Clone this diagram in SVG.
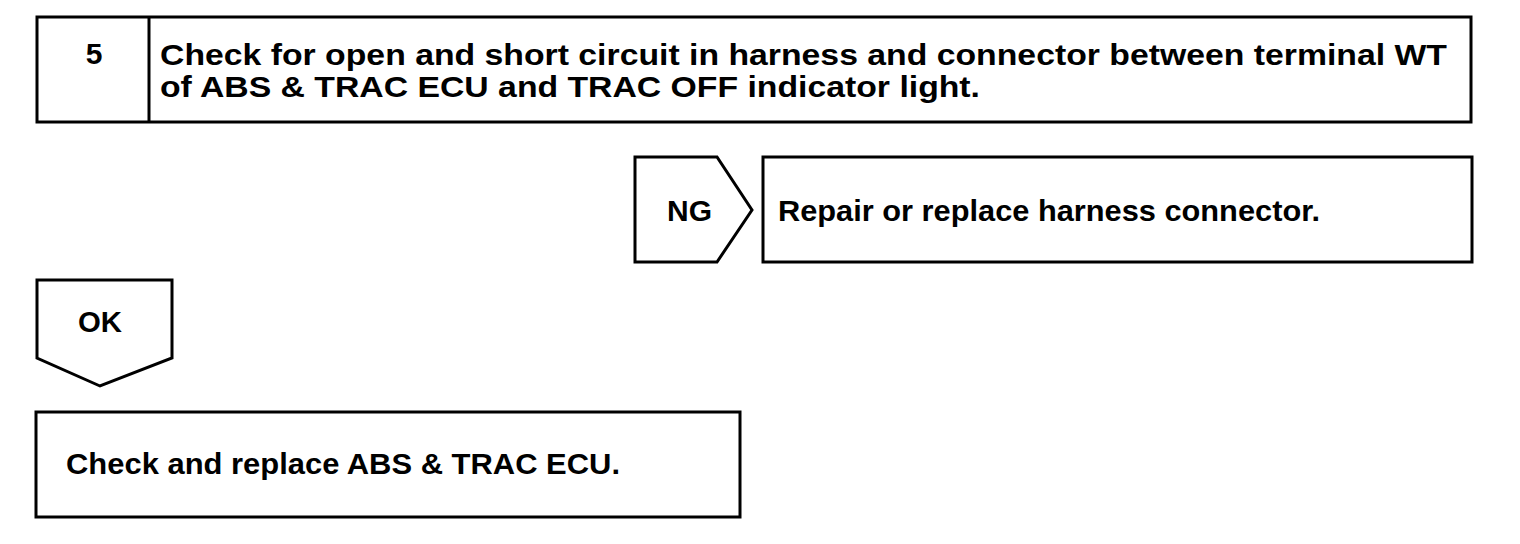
<svg xmlns="http://www.w3.org/2000/svg" width="1520" height="544" viewBox="0 0 1520 544">
<style>
.b{fill:#fff;stroke:#000;stroke-width:3}
.t{font-family:"Liberation Sans",Arial,sans-serif;font-weight:bold;font-size:29px;fill:#000}
.h{font-size:30px}
</style>
<rect width="1520" height="544" fill="#fff"/>
<g id="step5">
<rect class="b" x="37" y="17" width="1434" height="105"/>
<line x1="149" y1="17" x2="149" y2="122" stroke="#000" stroke-width="3"/>
<text class="t h" x="94" y="64" text-anchor="middle">5</text>
<text class="t h" x="160" y="65" textLength="1287" lengthAdjust="spacingAndGlyphs">Check for open and short circuit in harness and connector between terminal WT</text>
<text class="t h" x="160" y="97" textLength="820" lengthAdjust="spacingAndGlyphs">of ABS &amp; TRAC ECU and TRAC OFF indicator light.</text>
</g>
<g id="ng">
<polygon class="b" points="635,157 717,157 752,210 717,262 635,262"/>
<text class="t" x="667" y="221" textLength="45" lengthAdjust="spacingAndGlyphs">NG</text>
</g>
<g id="repair">
<rect class="b" x="763" y="157" width="709" height="105"/>
<text class="t" x="778" y="221" textLength="542" lengthAdjust="spacingAndGlyphs">Repair or replace harness connector.</text>
</g>
<g id="ok">
<polygon class="b" points="37,280 172,280 172,358 100,386 37,358"/>
<text class="t" x="78" y="332" textLength="44" lengthAdjust="spacingAndGlyphs">OK</text>
</g>
<g id="ecu">
<rect class="b" x="36" y="412" width="704" height="105"/>
<text class="t" x="66" y="474" textLength="554" lengthAdjust="spacingAndGlyphs">Check and replace ABS &amp; TRAC ECU.</text>
</g>
<g id="connectors"></g>
</svg>
